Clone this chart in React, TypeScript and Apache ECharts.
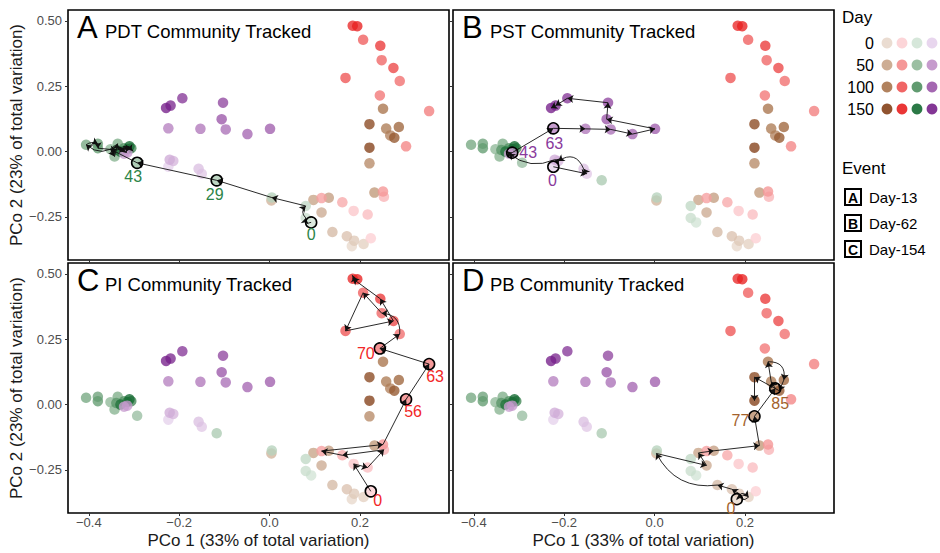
import React, { useEffect, useRef } from "react";
import * as echarts from "echarts";

const FONT = '"Liberation Sans", Arial, Helvetica, sans-serif';

// ---- Day colour ramps (legend rows 0, 50, 100, 150) ----
const dayBreaks = [0, 50, 100, 150];
const legendDays = ["0", "50", "100", "150"];
const brownStops = ["#e8d8cc", "#c8a488", "#a8744c", "#844018"];
const redStops = ["#fcd0d4", "#f48c8c", "#ee5454", "#e82020"];
const greenStops = ["#d2e4d6", "#90b898", "#509060", "#146a32"];
const purpleStops = ["#e6d2ec", "#c090c8", "#9a56a8", "#76208a"];

// ---- PDT (green) ----
const pdtDays = [0, 7, 14, 21, 29, 43, 50, 56, 63, 70, 77, 85, 92, 99, 113, 127, 141, 154];
const pdtX = [0.092, 0.080, 0.080, 0.005, -0.117, -0.293, -0.352, -0.343, -0.336, -0.406, -0.380, -0.380, -0.339, -0.322, -0.306, -0.315, -0.330, -0.310];
const pdtY = [-0.271, -0.254, -0.208, -0.176, -0.110, -0.043, 0.009, -0.019, 0.030, 0.026, 0.030, 0.013, 0.006, 0.013, 0.013, 0.010, 0.000, 0.020];

// ---- PST (purple) ----
const pstDays = [0, 7, 14, 21, 29, 36, 43, 63, 70, 77, 85, 92, 99, 113, 127, 141, 154];
const pstX = [-0.224, -0.150, -0.157, -0.213, -0.221, -0.322, -0.315, -0.224, -0.153, -0.097, -0.049, 0.001, -0.106, -0.103, -0.193, -0.219, -0.229];
const pstY = [-0.058, -0.085, -0.066, -0.036, -0.031, -0.008, -0.004, 0.089, 0.087, 0.085, 0.067, 0.087, 0.124, 0.187, 0.204, 0.176, 0.167];

// ---- PI (red) ----
const piDays = [0, 7, 14, 21, 29, 36, 43, 56, 63, 70, 77, 85, 92, 99, 113, 127, 141, 154];
const piX = [0.224, 0.186, 0.217, 0.253, 0.161, 0.115, 0.251, 0.302, 0.353, 0.244, 0.288, 0.248, 0.207, 0.168, 0.274, 0.245, 0.184, 0.194];
const piY = [-0.332, -0.227, -0.241, -0.173, -0.194, -0.178, -0.153, 0.020, 0.155, 0.215, 0.270, 0.350, 0.428, 0.282, 0.320, 0.405, 0.482, 0.480];

// ---- PB (brown) ----
const pbDays = [0, 7, 14, 21, 29, 36, 43, 50, 56, 63, 77, 85, 92, 99, 113, 127, 141, 154];
const pbX = [0.182, 0.208, 0.187, 0.171, 0.139, 0.004, 0.115, 0.097, 0.131, 0.232, 0.221, 0.267, 0.258, 0.251, 0.286, 0.276, 0.221, 0.221];
const pbY = [-0.362, -0.354, -0.341, -0.324, -0.308, -0.187, -0.233, -0.185, -0.177, -0.157, -0.045, 0.062, 0.088, 0.164, 0.094, 0.053, 0.105, 0.015];

// ---- axes ----
const xTicks = [-0.4, -0.2, 0.0, 0.2];
const yTicks = [-0.25, 0.0, 0.25, 0.5];
const xName = "PCo 1 (33% of total variation)";
const yName = "PCo 2 (23% of total variation)";

// ---- event legend ----
const eventLetters = ["A", "B", "C"];
const eventLabels = ["Day-13", "Day-62", "Day-154"];

type Comm = { key: string; x: number[]; y: number[]; days: number[]; stops: string[]; labelColor: string };
const communities: Comm[] = [
  { key: "PB", x: pbX, y: pbY, days: pbDays, stops: brownStops, labelColor: "#a3622c" },
  { key: "PI", x: piX, y: piY, days: piDays, stops: redStops, labelColor: "#f22828" },
  { key: "PDT", x: pdtX, y: pdtY, days: pdtDays, stops: greenStops, labelColor: "#2c8448" },
  { key: "PST", x: pstX, y: pstY, days: pstDays, stops: purpleStops, labelColor: "#8a3a9c" },
];

// panel styling / layout (not data)
const panels = [
  { letter: "A", title: "PDT Community Tracked", tracked: "PDT", marked: [0, 29, 43],
    offsets: { 0: [0, 12], 29: [-2, 14], 43: [-4, 14] } as Record<number, number[]>,
    curves: { 0: 0.9, 1: 0.5, 8: 0.45, 9: 0.3 } as Record<number, number> },
  { letter: "B", title: "PST Community Tracked", tracked: "PST", marked: [0, 43, 63],
    offsets: { 0: [-1, 14], 43: [16, 0], 63: [1, 15] } as Record<number, number[]>,
    curves: { 2: -0.6, 4: 0.3, 6: 0 } as Record<number, number> },
  { letter: "C", title: "PI Community Tracked", tracked: "PI", marked: [0, 56, 63, 70],
    offsets: { 0: [7, 9], 56: [7, 12], 63: [6, 12], 70: [-14, 5] } as Record<number, number[]>,
    curves: { 10: -0.5 } as Record<number, number> },
  { letter: "D", title: "PB Community Tracked", tracked: "PB", marked: [0, 77, 85],
    offsets: { 0: [-6, 9], 77: [-14, 4], 85: [5, 15] } as Record<number, number[]>,
    curves: { 0: 0.8, 1: 0.9, 4: 0.35, 13: 0.6 } as Record<number, number> },
];

const grids = [
  { left: 68, top: 10, width: 381, height: 250 },
  { left: 453, top: 10, width: 381, height: 250 },
  { left: 68, top: 263, width: 381, height: 250 },
  { left: 453, top: 263, width: 381, height: 250 },
];

function hexToRgb(h: string) {
  const n = parseInt(h.slice(1), 16);
  return [(n >> 16) & 255, (n >> 8) & 255, n & 255];
}
function dayColor(stops: string[], d: number) {
  const dd = Math.max(dayBreaks[0], Math.min(dayBreaks[3], d));
  let i = 0;
  while (i < 2 && dd > dayBreaks[i + 1]) i++;
  const f = (dd - dayBreaks[i]) / (dayBreaks[i + 1] - dayBreaks[i]);
  const a = hexToRgb(stops[i]);
  const b = hexToRgb(stops[i + 1]);
  const c = a.map((v, k) => Math.round(v + (b[k] - v) * f));
  return `rgb(${c[0]},${c[1]},${c[2]})`;
}
const minus = (s: string) => s.replace("-", "\u2212");

function buildOption() {
  const series: any[] = [];
  const graphic: any[] = [];

  panels.forEach((p, g) => {
    communities.forEach((c) => {
      series.push({
        type: "scatter",
        xAxisIndex: g,
        yAxisIndex: g,
        symbolSize: 10.5,
        z: 2,
        data: c.x.map((xv, i) => ({
          value: [xv, c.y[i], c.days[i]],
          itemStyle: { color: dayColor(c.stops, c.days[i]), opacity: 0.78 },
        })),
      });
    });
    const tc = communities.find((c) => c.key === p.tracked)!;
    const segs: any[] = [];
    for (let i = 0; i < tc.x.length - 1; i++) {
      segs.push({
        coords: [
          [tc.x[i], tc.y[i]],
          [tc.x[i + 1], tc.y[i + 1]],
        ],
        lineStyle: { curveness: p.curves[i] || 0 },
      });
    }
    series.push({
      type: "lines",
      coordinateSystem: "cartesian2d",
      xAxisIndex: g,
      yAxisIndex: g,
      z: 4,
      symbol: ["none", "arrow"],
      symbolSize: 6,
      lineStyle: { color: "#111", width: 0.9, opacity: 1 },
      data: segs,
    });
    series.push({
      type: "scatter",
      xAxisIndex: g,
      yAxisIndex: g,
      z: 5,
      symbolSize: 11,
      itemStyle: { color: "rgba(0,0,0,0)", borderColor: "#000", borderWidth: 1.6, opacity: 1 },
      data: p.marked.map((d) => {
        const i = tc.days.indexOf(d);
        return {
          value: [tc.x[i], tc.y[i]],
          label: {
            show: true,
            formatter: String(d),
            position: "inside",
            offset: p.offsets[d],
            color: tc.labelColor,
            fontSize: 16,
            fontFamily: FONT,
          },
        };
      }),
    });

    const gr = grids[g];
    graphic.push({
      type: "text",
      x: gr.left + 9,
      y: gr.top + 17,
      style: { text: p.letter, font: `31px ${FONT}`, fill: "#000", verticalAlign: "middle" },
    });
    graphic.push({
      type: "text",
      x: gr.left + 37,
      y: gr.top + 21,
      style: { text: p.title, font: `18.5px ${FONT}`, fill: "#000", verticalAlign: "middle" },
    });
  });

  // Day legend
  graphic.push({ type: "text", x: 842, y: 17, style: { text: "Day", font: `17px ${FONT}`, fill: "#000", verticalAlign: "middle" } });
  const dotX = [887, 902, 917, 932];
  const legendOrder = [brownStops, redStops, greenStops, purpleStops];
  legendDays.forEach((d, r) => {
    const yy = 43 + r * 22;
    graphic.push({ type: "text", x: 874, y: yy, style: { text: d, font: `16px ${FONT}`, fill: "#000", align: "right", verticalAlign: "middle" } });
    legendOrder.forEach((st, k) => {
      graphic.push({ type: "circle", shape: { cx: dotX[k], cy: yy, r: 5.4 }, style: { fill: st[r], opacity: 0.9 } });
    });
  });
  // Event legend
  graphic.push({ type: "text", x: 842, y: 168, style: { text: "Event", font: `17px ${FONT}`, fill: "#000", verticalAlign: "middle" } });
  eventLetters.forEach((l, r) => {
    const yy = 197 + r * 26;
    graphic.push({ type: "rect", shape: { x: 845, y: yy - 8, width: 16, height: 16 }, style: { fill: "#fff", stroke: "#000", lineWidth: 2 } });
    graphic.push({ type: "text", x: 853, y: yy + 0.5, style: { text: l, font: `bold 14px ${FONT}`, fill: "#000", align: "center", verticalAlign: "middle" } });
    graphic.push({ type: "text", x: 869, y: yy, style: { text: eventLabels[r], font: `15px ${FONT}`, fill: "#000", verticalAlign: "middle" } });
  });

  const xAxis = grids.map((_, g) => ({
    gridIndex: g,
    type: "value",
    position: "bottom",
    min: -0.446,
    max: 0.397,
    splitLine: { show: false },
    axisLine: { show: false, onZero: false },
    axisTick: { show: true, customValues: xTicks, length: 3, lineStyle: { color: "#333", width: 1 } },
    axisLabel: {
      show: g >= 2,
      customValues: xTicks,
      formatter: (v: number) => minus(v.toFixed(1)),
      color: "#4d4d4d",
      fontSize: 13,
      margin: 3,
      fontFamily: FONT,
    },
    name: g >= 2 ? xName : "",
    nameLocation: "middle",
    nameGap: 19,
    nameTextStyle: { fontSize: 17, color: "#1a1a1a", fontFamily: FONT },
  }));
  const yAxis = grids.map((_, g) => ({
    gridIndex: g,
    type: "value",
    position: "left",
    min: -0.415,
    max: 0.542,
    splitLine: { show: false },
    axisLine: { show: false, onZero: false },
    axisTick: { show: true, customValues: yTicks, length: 3, lineStyle: { color: "#333", width: 1 } },
    axisLabel: {
      show: g % 2 === 0,
      customValues: yTicks,
      formatter: (v: number) => minus(v.toFixed(2)),
      color: "#4d4d4d",
      fontSize: 13,
      margin: 6,
      fontFamily: FONT,
    },
    name: g % 2 === 0 ? yName : "",
    nameLocation: "middle",
    nameGap: 25,
    nameTextStyle: { fontSize: 17, color: "#1a1a1a", fontFamily: FONT },
  }));

  return {
    animation: false,
    backgroundColor: "#fff",
    textStyle: { fontFamily: FONT },
    grid: grids.map((gr) => ({ ...gr, show: true, borderColor: "#000", borderWidth: 1.6, backgroundColor: "rgba(0,0,0,0)" })),
    xAxis,
    yAxis,
    series,
    graphic,
  };
}

export default function App() {
  const ref = useRef<HTMLDivElement>(null);
  useEffect(() => {
    document.body.style.margin = "0";
    const chart = echarts.init(ref.current!, null, { renderer: "svg" });
    chart.setOption(buildOption() as any);
    return () => chart.dispose();
  }, []);
  return <div ref={ref} style={{ width: 940, height: 553 }} />;
}
